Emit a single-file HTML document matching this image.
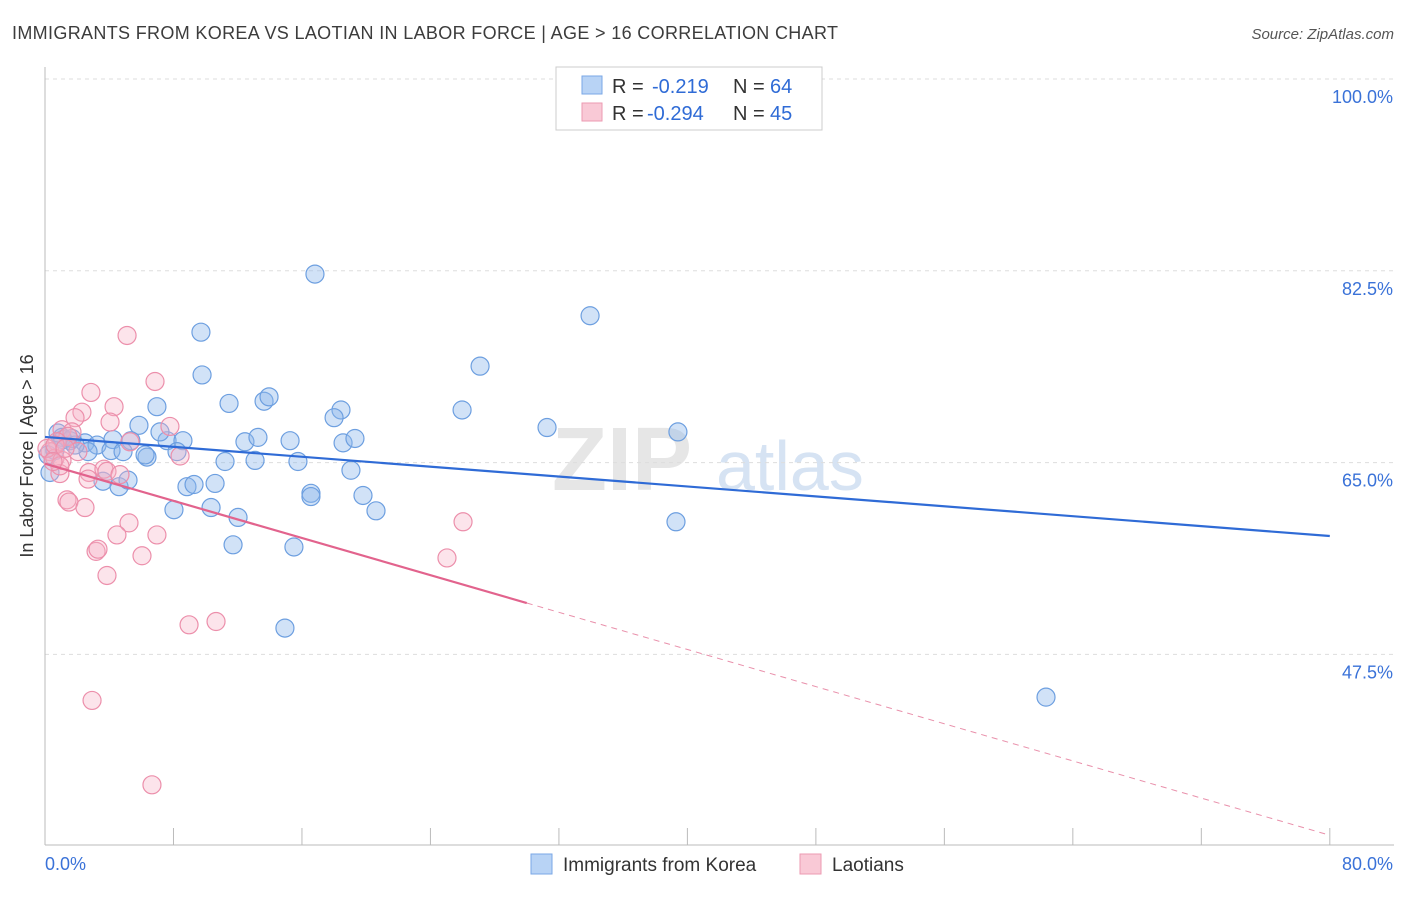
<!DOCTYPE html>
<html><head><meta charset="utf-8"><style>
body{margin:0;background:#fff;font-family:"Liberation Sans",sans-serif;}
svg text{font-family:"Liberation Sans",sans-serif;}
</style></head><body>
<svg id="chart" width="1406" height="892" viewBox="0 0 1406 892" xmlns="http://www.w3.org/2000/svg">
<text x="12" y="39" font-size="18" fill="#3c3c3c" textLength="826">IMMIGRANTS FROM KOREA VS LAOTIAN IN LABOR FORCE | AGE &gt; 16 CORRELATION CHART</text>
<text x="1394" y="39" font-size="15" fill="#555" text-anchor="end" font-style="italic">Source: ZipAtlas.com</text>
<text x="552" y="490" font-size="90" fill="#e6e6e6" font-family="Liberation Serif" font-weight="bold">ZIP</text>
<text x="716" y="490" font-size="70" fill="#d6e3f3">atlas</text>
<g id="grid"></g>
<g id="axes"></g>
<g id="marks"></g>
<text transform="translate(33,456) rotate(-90)" font-size="18" fill="#333" text-anchor="middle">In Labor Force | Age &gt; 16</text>
<text x="45" y="870" font-size="18" fill="#3a72d8">0.0%</text>
<text x="1393" y="870" font-size="18" fill="#3a72d8" text-anchor="end">80.0%</text>
<g>
<rect x="556" y="67" width="266" height="63" fill="#fff" stroke="#ccc"/>
<rect x="582" y="76" width="20" height="18" fill="#b8d3f5" stroke="#7aa7e6"/>
<rect x="582" y="103" width="20" height="18" fill="#f9c9d6" stroke="#ec9ab2"/>
<text x="612" y="93" font-size="20" fill="#333">R = <tspan x="652" fill="#2f6bd6">-0.219</tspan><tspan x="733">N = </tspan><tspan x="770" fill="#2f6bd6">64</tspan></text>
<text x="612" y="120" font-size="20" fill="#333">R = <tspan x="647" fill="#2f6bd6">-0.294</tspan><tspan x="733">N = </tspan><tspan x="770" fill="#2f6bd6">45</tspan></text>
</g>
<g>
<rect x="531" y="854" width="21" height="20" fill="#b8d3f5" stroke="#7aa7e6"/>
<text x="563" y="871" font-size="19" fill="#333">Immigrants from Korea</text>
<rect x="800" y="854" width="21" height="20" fill="#f9c9d6" stroke="#ec9ab2"/>
<text x="832" y="871" font-size="19" fill="#333">Laotians</text>
</g>
</svg>
<script>
const yTicks=[100,82.5,65,47.5];
const xTicks=[0,8,16,24,32,40,48,56,64,72,80];
const koreaX=[16.81,33.94,9.71,27.09,9.78,6.97,11.46,13.64,13.95,25.97,18.43,18.0,31.26,39.41,5.85,0.81,1.12,1.56,2.49,3.24,4.23,5.35,7.6,8.59,12.45,13.26,15.26,18.56,19.3,4.11,4.86,2.68,6.35,6.23,8.22,11.21,13.08,15.75,19.05,3.61,4.61,5.17,8.84,9.28,10.59,16.56,16.56,19.8,8.03,10.34,12.02,20.61,39.29,11.71,15.5,14.94,62.33,0.31,0.19,1.06,1.68,0.62,7.16,1.87];
const koreaY=[82.2,78.4,76.9,73.8,73.0,70.1,70.4,70.6,71.0,69.8,69.8,69.1,68.2,67.8,68.4,67.7,67.1,67.0,66.8,66.6,67.1,67.0,67.0,67.0,66.9,67.3,67.0,66.8,67.2,66.1,66.0,66.0,65.5,65.7,66.0,65.1,65.2,65.1,64.3,63.3,62.8,63.4,62.8,63.0,63.1,62.2,61.9,62.0,60.7,60.9,60.0,60.6,59.6,57.5,57.3,49.9,43.6,64.1,65.7,67.3,67.2,66.1,67.8,66.6];
const laoX=[5.11,6.85,2.86,4.3,2.3,1.87,4.05,7.78,1.06,1.68,5.29,1.43,0.75,2.05,8.41,0.31,0.62,1.06,0.93,2.74,3.67,3.86,4.67,2.68,1.37,1.49,2.49,5.23,6.97,4.48,3.18,3.3,6.04,3.86,25.03,26.03,8.97,10.65,2.93,6.66,0.93,0.12,0.62,1.25,0.5];
const laoY=[76.6,72.4,71.4,70.1,69.6,69.1,68.7,68.3,68.0,67.8,66.9,67.4,66.9,66.0,65.6,66.0,65.4,65.2,64.0,64.1,64.4,64.2,63.9,63.5,61.6,61.4,60.9,59.5,58.4,58.4,56.9,57.1,56.5,54.7,56.3,59.6,50.2,50.5,43.3,35.6,64.7,66.3,66.6,66.3,65.1];
const koreaTrend=[67.34,58.3];
const laoTrend=[64.9,31.0];
const laoSolidEnd=30;
const NS='http://www.w3.org/2000/svg';
function X(v){return 45+v*16.06;}
function Y(v){return 79+(100-v)*10.96;}
function mk(tag,attrs,parent){const e=document.createElementNS(NS,tag);for(const k in attrs)e.setAttribute(k,attrs[k]);parent.appendChild(e);return e;}
const grid=document.getElementById('grid'),axes=document.getElementById('axes'),marks=document.getElementById('marks');
yTicks.forEach(t=>{
 const l=mk('line',{x1:45,x2:1394,y1:Y(t),y2:Y(t),stroke:'#ddd','stroke-dasharray':'4,4'},grid);
 
 
 const tx=mk('text',{x:1393,y:Y(t)+24,'font-size':18,fill:'#3a72d8','text-anchor':'end'},grid);
 tx.textContent=t.toFixed(1)+'%';
 
 
});
const ax=mk('line',{x1:45,x2:1394,y1:845,y2:845,stroke:'#bbb'},axes);


const ay=mk('line',{x1:45,x2:45,y1:67,y2:845,stroke:'#bbb'},axes);


xTicks.forEach(t=>{
 const l=mk('line',{x1:X(t),x2:X(t),y1:828,y2:845,stroke:'#bbb'},axes);
 
 
});
koreaX.forEach((v,i)=>{
 const c=mk('circle',{cx:X(v),cy:Y(koreaY[i]),r:9,fill:'rgba(140,182,236,0.4)',stroke:'#6d9fe0','stroke-width':1.2},marks);
 
 
});
laoX.forEach((v,i)=>{
 const c=mk('circle',{cx:X(v),cy:Y(laoY[i]),r:9,fill:'rgba(246,178,198,0.35)',stroke:'#ec8fab','stroke-width':1.2},marks);
 
 
});
const bl=mk('line',{x1:X(0),y1:Y(koreaTrend[0]),x2:X(80),y2:Y(koreaTrend[1]),stroke:'#2f6bd6','stroke-width':2.2},marks);


const ly=v=>laoTrend[0]+(laoTrend[1]-laoTrend[0])*v/80;
const pl=mk('line',{x1:X(0),y1:Y(ly(0)),x2:X(laoSolidEnd),y2:Y(ly(laoSolidEnd)),stroke:'#e2638d','stroke-width':2.2},marks);


const pd=mk('line',{x1:X(laoSolidEnd),y1:Y(ly(laoSolidEnd)),x2:X(80),y2:Y(ly(80)),stroke:'#e990ab','stroke-width':1,'stroke-dasharray':'6,5'},marks);


</script>
</body></html>
